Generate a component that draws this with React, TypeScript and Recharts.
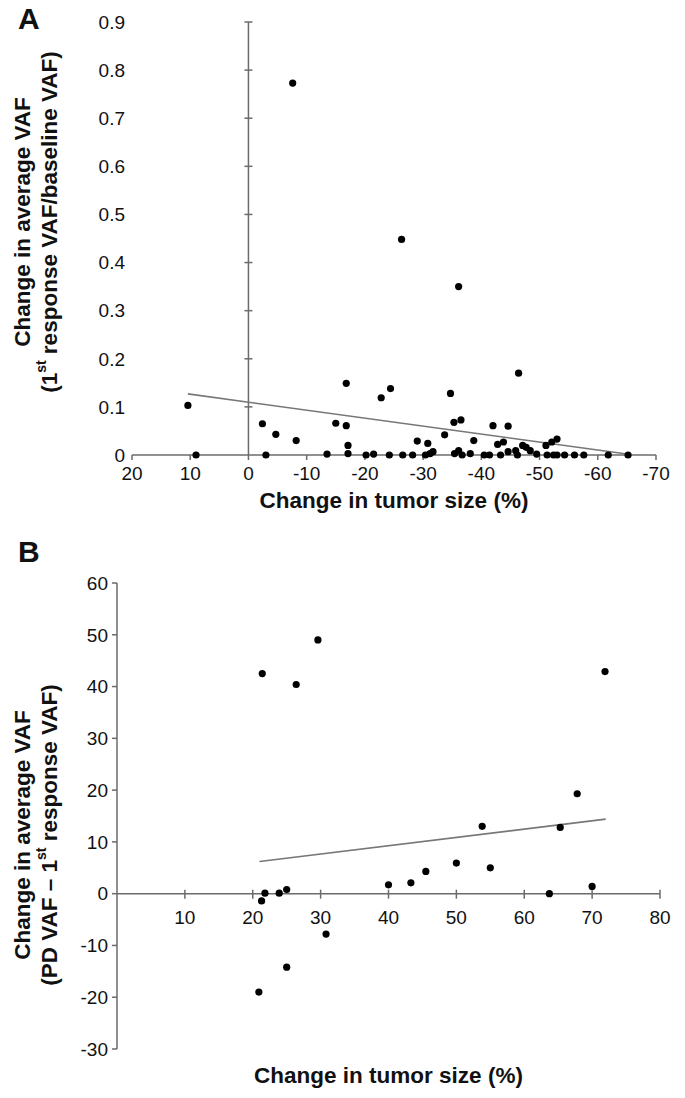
import React from 'react';
import { ScatterChart, Scatter, XAxis, YAxis, ReferenceLine, ReferenceDot, Label } from 'recharts';

// panel A: change in tumor size (%) vs change in average VAF (ratio)
const sizeChangeA = [
  10.4, -7.6, -26.3, -36.1, -16.8, -22.8, -24.4, -34.7, -46.4,
  9.0, -2.4, -3.0, -4.7, -8.2, -13.5, -15.0, -16.8, -17.1, -17.1, -20.2,
  -21.5, -24.2, -26.5, -28.2, -29.0, -30.4, -30.8, -31.2, -31.7, -33.7,
  -35.3, -36.5, -35.4, -36.1, -36.7, -38.1, -38.7, -40.5, -41.4, -42.0,
  -42.8, -43.3, -43.8, -44.6, -44.6, -45.9, -46.2, -47.1, -47.7, -48.4,
  -49.5, -51.1, -52.1, -53.0, -51.3, -52.4, -53.0, -54.3, -56.0, -57.6,
  -61.8, -65.2,
];
const vafChangeA = [
  0.103, 0.773, 0.448, 0.35, 0.149, 0.119, 0.138, 0.128, 0.17,
  0, 0.065, 0, 0.043, 0.03, 0.002, 0.066, 0.061, 0.02, 0.003, 0,
  0.002, 0, 0, 0, 0.029, 0, 0.024, 0.003, 0.007, 0.042,
  0.068, 0.073, 0.003, 0.009, 0, 0.003, 0.03, 0, 0, 0.061,
  0.022, 0, 0.027, 0.06, 0.007, 0.009, 0, 0.02, 0.016, 0.009,
  0.002, 0.02, 0.027, 0.033, 0, 0, 0, 0, 0, 0,
  0, 0,
];
const trendSizeA = [10.4, -65];
const trendVafA = [0.127, 0.002];
const xTicksA = [20, 10, 0, -10, -20, -30, -40, -50, -60, -70];
const yTicksA = [0, 0.1, 0.2, 0.3, 0.4, 0.5, 0.6, 0.7, 0.8, 0.9];

// panel B: change in tumor size (%) vs change in average VAF (difference)
const sizeChangeB = [
  21.4, 26.4, 29.6, 71.9, 67.8, 53.8, 65.3, 50.0, 55.0, 45.5, 43.3,
  40.0, 70.0, 63.7, 25.0, 23.9, 21.8, 21.3, 30.8, 25.0, 20.9,
];
const vafChangeB = [
  42.5, 40.4, 49.0, 42.9, 19.3, 13.0, 12.8, 5.9, 5.0, 4.3, 2.1,
  1.7, 1.4, 0, 0.8, 0.1, 0.1, -1.4, -7.8, -14.2, -19.0,
];
const trendSizeB = [21, 72];
const trendVafB = [6.2, 14.4];
const xTicksB = [10, 20, 30, 40, 50, 60, 70, 80];
const yTicksB = [-30, -20, -10, 0, 10, 20, 30, 40, 50, 60];

const FONT = '"Liberation Sans", Arial, Helvetica, sans-serif';
const AXIS = '#6b6b6b';
const INK = '#111';
const TICK_FONT = 19;
const TITLE_FONT = 22.5;

const toPoints = (xs: number[], ys: number[]) => xs.map((x, i) => ({ x, y: ys[i] }));

const dot = (p: any) => <circle cx={p.cx} cy={p.cy} r={3.6} fill="#000" />;
const noShape = () => <g />;

// two rotated, centred lines
const YTitle = ({ line2, cy }: any) => (
  <g fontFamily={FONT} fontWeight="bold" fontSize={TITLE_FONT} fill={INK}>
    <text x={22} y={cy} textAnchor="middle" transform={`rotate(-90, 22, ${cy})`} dominantBaseline="central">
      Change in average VAF
    </text>
    <text x={49} y={cy} textAnchor="middle" transform={`rotate(-90, 49, ${cy})`} dominantBaseline="central">
      {line2[0]}
      <tspan dy={-8} fontSize={14}>st</tspan>
      <tspan dy={8}>{line2[1]}</tspan>
    </text>
  </g>
);

const XTitle = ({ viewBox, lift }: any) => (
  <text
    x={viewBox.x + viewBox.width / 2}
    y={viewBox.y + viewBox.height - lift}
    textAnchor="middle"
    fontFamily={FONT}
    fontWeight="bold"
    fontSize={TITLE_FONT}
    fill={INK}
  >
    Change in tumor size (%)
  </text>
);

const PanelA = () => (
  <ScatterChart width={685} height={520} margin={{ top: 22, right: 29, bottom: 0, left: 0 }}>
    <XAxis
      type="number"
      dataKey="x"
      domain={[-70, 20]}
      reversed
      ticks={xTicksA}
      interval={0}
      height={65}
      stroke={AXIS}
      strokeWidth={1.5}
      tickSize={5}
      tickMargin={7}
      tick={{ fontSize: TICK_FONT, fill: INK, fontFamily: FONT }}
    >
      <Label content={(p: any) => <XTitle {...p} lift={12} />} />
    </XAxis>
    <YAxis
      type="number"
      dataKey="y"
      domain={[0, 0.9]}
      ticks={yTicksA}
      interval={0}
      width={132}
      axisLine={false}
      tickLine={false}
      tickSize={0}
      tickMargin={7}
      tickFormatter={(v: number) => (v === 0 ? '0' : v.toFixed(1))}
      tick={{ fontSize: TICK_FONT, fill: INK, fontFamily: FONT }}
    >
      <Label content={() => <YTitle cy={222} line2={['(1', ' response VAF/baseline VAF)']} />} />
    </YAxis>
    <ReferenceLine x={0} stroke={AXIS} strokeWidth={1.5} />
    {yTicksA.slice(1).map((v) => (
      <ReferenceDot
        key={v}
        x={0}
        y={v}
        r={0}
        shape={(p: any) => <line x1={p.cx - 4} x2={p.cx + 4} y1={p.cy} y2={p.cy} stroke={AXIS} strokeWidth={1.5} />}
      />
    ))}
    <Scatter
      data={toPoints(trendSizeA, trendVafA)}
      line={{ stroke: '#777', strokeWidth: 1.6 }}
      shape={noShape}
      isAnimationActive={false}
    />
    <Scatter data={toPoints(sizeChangeA, vafChangeA)} shape={dot} isAnimationActive={false} />
  </ScatterChart>
);

const PanelB = () => (
  <ScatterChart width={685} height={558} margin={{ top: 43, right: 25, bottom: 0, left: 0 }}>
    <XAxis
      type="number"
      dataKey="x"
      domain={[0, 80]}
      ticks={xTicksB}
      height={49}
      axisLine={false}
      tickLine={false}
      tick={false}
    >
      <Label content={(p: any) => <XTitle {...p} lift={15} />} />
    </XAxis>
    <YAxis
      type="number"
      dataKey="y"
      domain={[-30, 60]}
      ticks={yTicksB}
      interval={0}
      width={117}
      stroke={AXIS}
      strokeWidth={1.5}
      tickSize={5}
      tickMargin={4}
      tick={{ fontSize: TICK_FONT, fill: INK, fontFamily: FONT }}
    >
      <Label content={() => <YTitle cy={295} line2={['(PD VAF – 1', ' response VAF)']} />} />
    </YAxis>
    <ReferenceLine y={0} stroke={AXIS} strokeWidth={1.5} />
    {xTicksB.map((v) => (
      <ReferenceDot
        key={v}
        x={v}
        y={0}
        r={0}
        shape={(p: any) => (
          <g>
            <line x1={p.cx} x2={p.cx} y1={p.cy - 4} y2={p.cy + 5} stroke={AXIS} strokeWidth={1.5} />
            <text x={p.cx} y={p.cy + 30} textAnchor="middle" fontSize={TICK_FONT} fill={INK} fontFamily={FONT}>
              {v}
            </text>
          </g>
        )}
      />
    ))}
    <Scatter
      data={toPoints(trendSizeB, trendVafB)}
      line={{ stroke: '#777', strokeWidth: 1.6 }}
      shape={noShape}
      isAnimationActive={false}
    />
    <Scatter data={toPoints(sizeChangeB, vafChangeB)} shape={dot} isAnimationActive={false} />
  </ScatterChart>
);

const letter: React.CSSProperties = {
  position: 'absolute',
  left: 18,
  fontFamily: FONT,
  fontWeight: 'bold',
  fontSize: 30,
  color: INK,
  lineHeight: 1,
};

export default function App() {
  return (
    <div style={{ position: 'absolute', left: 0, top: 0, width: 685, height: 1098, background: '#fff' }}>
      <div style={{ position: 'absolute', left: 0, top: 0 }}>
        <PanelA />
      </div>
      <div style={{ position: 'absolute', left: 0, top: 540 }}>
        <PanelB />
      </div>
      <div style={{ ...letter, top: 4 }}>A</div>
      <div style={{ ...letter, top: 537 }}>B</div>
    </div>
  );
}
